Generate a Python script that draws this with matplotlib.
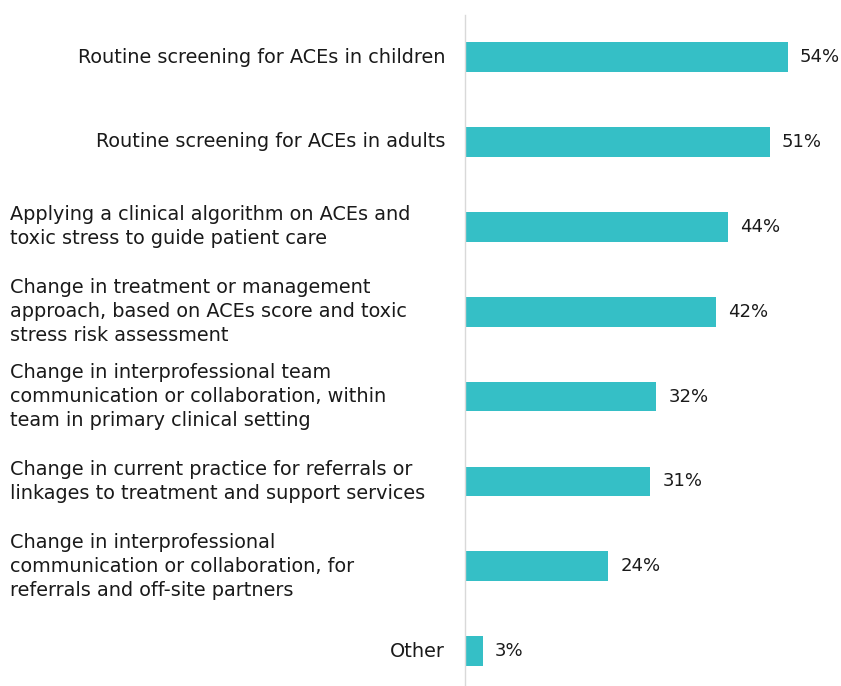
import matplotlib.pyplot as plt
from matplotlib.transforms import blended_transform_factory

categories = [
    "Routine screening for ACEs in children",
    "Routine screening for ACEs in adults",
    "Applying a clinical algorithm on ACEs and\ntoxic stress to guide patient care",
    "Change in treatment or management\napproach, based on ACEs score and toxic\nstress risk assessment",
    "Change in interprofessional team\ncommunication or collaboration, within\nteam in primary clinical setting",
    "Change in current practice for referrals or\nlinkages to treatment and support services",
    "Change in interprofessional\ncommunication or collaboration, for\nreferrals and off-site partners",
    "Other",
]
values = [54, 51, 44, 42, 32, 31, 24, 3]

bar_color = "#35BFC6"
text_color = "#1a1a1a"
fs = 13.9

fig = plt.figure(figsize=(8.41, 6.86), dpi=100)
ax = fig.add_axes([465 / 841, 0, 1 - 465 / 841, (686 - 15) / 686])

ypos = list(range(len(values)))
ax.barh(ypos, values, height=0.35, color=bar_color)
ax.set_xlim(0, 62.9)
ax.set_ylim(7.41, -0.495)

for y, v in zip(ypos, values):
    ax.text(v + 2.0, y, f"{v}%", va="center", ha="left", fontsize=13, color=text_color)

trans = blended_transform_factory(fig.transFigure, ax.transData)
for y, label in zip(ypos, categories):
    if "\n" in label:
        ax.text(10 / 841, y, label, transform=trans, ha="left", va="center",
                fontsize=fs, color=text_color, linespacing=1.35)
    else:
        ax.text(445 / 841, y, label, transform=trans, ha="right", va="center",
                fontsize=fs, color=text_color)

ax.set_xticks([])
ax.set_yticks([])
for s in ["top", "right", "bottom"]:
    ax.spines[s].set_visible(False)
ax.spines["left"].set_color("#d9d9d9")
ax.spines["left"].set_linewidth(1)

fig.savefig("out.png", dpi=100)
